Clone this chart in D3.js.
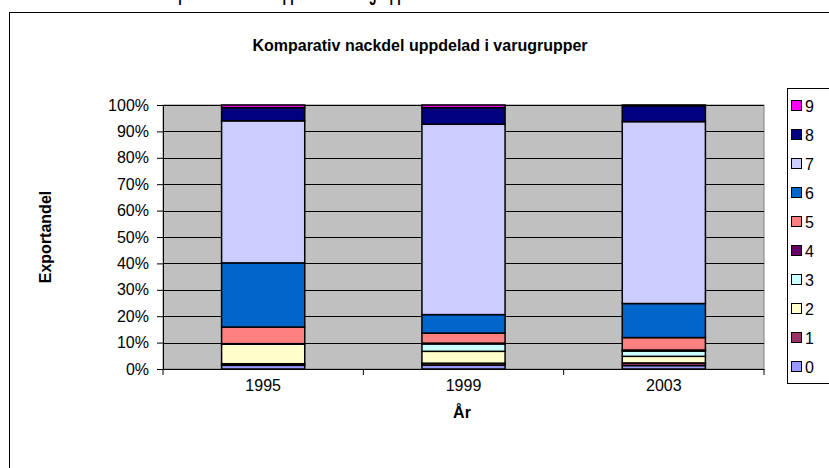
<!DOCTYPE html>
<html>
<head>
<meta charset="utf-8">
<script src="https://cdn.jsdelivr.net/npm/d3@7"></script>
<style>
  body { margin: 0; background: #fff; }
  svg { display: block; font-family: "Liberation Sans", Arial, sans-serif; }
</style>
</head>
<body>
<svg id="chart" width="829" height="468"></svg>
<script>
// data (percent of exports per goods group)
const years = ['1995', '1999', '2003'];
const groups = ['0', '1', '2', '3', '4', '5', '6', '7', '8', '9'];
const g0 = [1.4, 1.5, 1.3];
const g1 = [0.6, 0.7, 1.0];
const g2 = [7.4, 4.5, 2.5];
const g3 = [0.1, 2.8, 2.0];
const g4 = [0.1, 0.3, 0.4];
const g5 = [6.3, 3.8, 4.7];
const g6 = [24.3, 7.0, 12.9];
const g7 = [53.8, 72.1, 68.9];
const g8 = [5.0, 6.3, 6.0];
const g9 = [1.0, 1.0, 0.3];
const yTicks = [0, 0.1, 0.2, 0.3, 0.4, 0.5, 0.6, 0.7, 0.8, 0.9, 1];
const colors = ['#9999FF', '#993366', '#FFFFCC', '#CCFFFF', '#660066',
                '#FF8080', '#0066CC', '#CCCCFF', '#000080', '#FF00FF'];

const series = [g0, g1, g2, g3, g4, g5, g6, g7, g8, g9];

// table for the stack layout
const rows = years.map((yr, i) => {
  const r = { year: yr };
  let tot = 0;
  series.forEach(s => tot += s[i]);
  groups.forEach((g, k) => r[g] = series[k][i] / tot);
  return r;
});

const svg = d3.select('#chart');

/* frame */
// caption of the page above the chart, mostly cut off by the top edge
svg.append('text')
  .attr('x', 150).attr('y', 0)
  .attr('font-size', 22).attr('font-weight', 'bold')
  .attr('textLength', 267).attr('lengthAdjust', 'spacingAndGlyphs')
  .text('Komparativ nackdel uppdelad i varugrupper');

svg.append('rect')
  .attr('x', 9.5).attr('y', 12.5)
  .attr('width', 840).attr('height', 480)
  .attr('fill', '#fff').attr('stroke', '#000').attr('stroke-width', 1);

const plot = { left: 163, right: 764, top: 105, bottom: 369 };

const x = d3.scaleBand()
  .domain(years)
  .range([plot.left, plot.right])
  .paddingInner(0.585).paddingOuter(0.2925);

const y = d3.scaleLinear()
  .domain([0, 1])
  .range([plot.bottom, plot.top]);

// plot area
svg.append('rect')
  .attr('x', plot.left).attr('y', plot.top)
  .attr('width', plot.right - plot.left).attr('height', plot.bottom - plot.top)
  .attr('fill', '#C0C0C0').attr('stroke', '#808080');

// gridlines
svg.append('g')
  .selectAll('line')
  .data(yTicks.slice(1))
  .join('line')
  .attr('x1', plot.left).attr('x2', plot.right)
  .attr('y1', d => Math.round(y(d)) + 0.5).attr('y2', d => Math.round(y(d)) + 0.5)
  .attr('stroke', '#000');

// stacked bars
const stacked = d3.stack().keys(groups)(rows);

svg.append('g')
  .selectAll('g')
  .data(stacked)
  .join('g')
  .attr('fill', (d, i) => colors[i])
  .selectAll('rect')
  .data(d => d)
  .join('rect')
  .attr('x', d => x(d.data.year))
  .attr('width', x.bandwidth())
  .attr('y', d => y(d[1]))
  .attr('height', d => y(d[0]) - y(d[1]))
  .attr('stroke', '#000')
  .attr('stroke-width', 1.5);

// axes
const yAxis = svg.append('g')
  .attr('transform', `translate(${plot.left},0)`)
  .call(d3.axisLeft(y).tickValues(yTicks).tickFormat(d3.format('.0%')).tickSize(6).tickSizeOuter(0));

const xAxis = svg.append('g')
  .attr('transform', `translate(0,${plot.bottom})`)
  .call(d3.axisBottom(x).tickSize(0).tickSizeOuter(0));

xAxis.selectAll('.tick').append('line')
  .attr('x1', x.step() / 2).attr('x2', x.step() / 2)
  .attr('y1', 0).attr('y2', 6).attr('stroke', '#000');
xAxis.append('line')
  .attr('x1', plot.left).attr('x2', plot.left).attr('y1', 0).attr('y2', 6).attr('stroke', '#000');

[yAxis, xAxis].forEach(a => {
  a.selectAll('text').attr('font-size', 16).attr('font-family', 'Liberation Sans, Arial, sans-serif').attr('fill', '#000');
  a.select('.domain').attr('stroke', '#000');
});
yAxis.selectAll('text').attr('x', -14);
xAxis.selectAll('text').attr('dy', '1.2em');

// titles
svg.append('text')
  .attr('x', 420).attr('y', 51)
  .attr('text-anchor', 'middle')
  .attr('font-size', 16).attr('font-weight', 'bold')
  .text('Komparativ nackdel uppdelad i varugrupper');

svg.append('text')
  .attr('x', 462).attr('y', 418)
  .attr('text-anchor', 'middle')
  .attr('font-size', 16).attr('font-weight', 'bold')
  .text('År');

svg.append('text')
  .attr('transform', 'translate(51,237) rotate(-90)')
  .attr('text-anchor', 'middle')
  .attr('font-size', 16).attr('font-weight', 'bold')
  .text('Exportandel');

// legend
const legend = svg.append('g');
legend.append('rect')
  .attr('x', 787.5).attr('y', 88.5)
  .attr('width', 60).attr('height', 295)
  .attr('fill', '#fff').attr('stroke', '#000');

const legendItems = legend.selectAll('g.item')
  .data(groups.slice().reverse())
  .join('g')
  .attr('class', 'item')
  .attr('transform', (d, i) => `translate(791,${106 + i * 29})`);

legendItems.append('rect')
  .attr('x', 0.5).attr('y', -5.5)
  .attr('width', 10).attr('height', 10)
  .attr('fill', d => colors[+d])
  .attr('stroke', '#000');

legendItems.append('text')
  .attr('x', 14).attr('y', 0)
  .attr('dy', '0.35em')
  .attr('font-size', 16)
  .text(d => d);
</script>
</body>
</html>
